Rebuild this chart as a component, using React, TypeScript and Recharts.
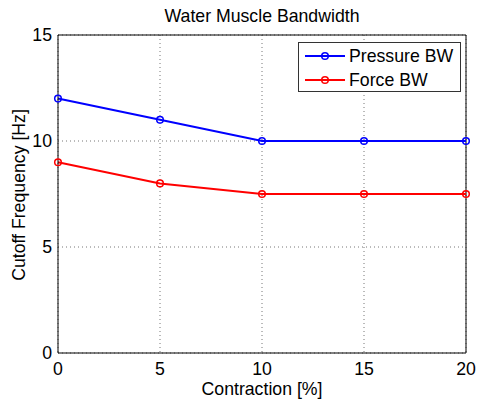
import {
  LineChart,
  Line,
  XAxis,
  YAxis,
  CartesianGrid,
  ReferenceLine,
} from 'recharts';

const contraction = [0, 5, 10, 15, 20];
const pressureBW = [12, 11, 10, 10, 10];
const forceBW = [9, 8, 7.5, 7.5, 7.5];
const xTicks = [0, 5, 10, 15, 20];
const yTicks = [0, 5, 10, 15];

const FONT = '"Liberation Sans", Arial, Helvetica, sans-serif';
const FS = 17.7;

const data = contraction.map((c, i) => ({
  contraction: c,
  pressure: pressureBW[i],
  force: forceBW[i],
}));

const legendItems = [
  { name: 'Pressure BW', color: '#0000ff' },
  { name: 'Force BW', color: '#ff0000' },
];

// boxed legend in the upper-right corner of the plot
function BoxLegend() {
  return (
    <div
      style={{
        position: 'absolute',
        left: 298,
        top: 42,
        width: 161,
        height: 48,
        border: '1px solid #333',
        background: '#fff',
        fontFamily: FONT,
        fontSize: FS,
        color: '#000',
      }}
    >
      {legendItems.map((item, i) => (
        <div key={item.name} style={{ display: 'flex', alignItems: 'center', height: 24, marginTop: i === 0 ? 1 : 0 }}>
          <svg width={48} height={24} style={{ display: 'block' }}>
            <line x1={6} y1={12} x2={46} y2={12} stroke={item.color} strokeWidth={2} />
            <circle cx={26} cy={12} r={3.3} fill="none" stroke={item.color} strokeWidth={1.5} />
          </svg>
          <span style={{ marginLeft: 2, lineHeight: '24px' }}>{item.name}</span>
        </div>
      ))}
    </div>
  );
}

function YTitle() {
  const cy = 195;
  const x = 25;
  return (
    <text
      x={x}
      y={cy}
      transform={`rotate(-90, ${x}, ${cy})`}
      textAnchor="middle"
      fontFamily={FONT}
      fontSize={FS}
      fill="#000"
    >
      Cutoff Frequency [Hz]
    </text>
  );
}

export default function App() {
  return (
    <div style={{ position: 'absolute', left: 0, top: 0, width: 477, height: 400, background: '#fff' }}>
      <LineChart
        width={477}
        height={400}
        data={data}
        margin={{ top: 35, right: 11, bottom: 0, left: 0 }}
      >
        <CartesianGrid stroke="#777" strokeDasharray="1 3" />
        <XAxis
          dataKey="contraction"
          type="number"
          domain={[0, 20]}
          ticks={xTicks}
          height={47}
          tickLine={false}
          tickSize={6}
          tickMargin={3}
          axisLine={{ stroke: '#000' }}
          tick={{ fill: '#000', fontSize: FS, fontFamily: FONT }}
          label={{
            value: 'Contraction [%]',
            position: 'insideBottom',
            offset: 5,
            fill: '#000',
            fontSize: FS,
            fontFamily: FONT,
          }}
        />
        <YAxis
          type="number"
          domain={[0, 15]}
          ticks={yTicks}
          width={58}
          tickLine={false}
          tickSize={6}
          tickMargin={0}
          axisLine={{ stroke: '#000' }}
          tick={{ fill: '#000', fontSize: FS, fontFamily: FONT }}
          label={<YTitle />}
        />
        <ReferenceLine
          y={15}
          stroke="#000"
          label={{
            value: 'Water Muscle Bandwidth',
            position: 'top',
            offset: 13,
            fill: '#000',
            fontSize: FS,
            fontFamily: FONT,
          }}
        />
        <ReferenceLine x={20} stroke="#000" />
        <Line
          dataKey="pressure"
          stroke="#0000ff"
          strokeWidth={2}
          dot={{ r: 3.3, stroke: '#0000ff', strokeWidth: 1.5, fill: 'none' }}
          isAnimationActive={false}
        />
        <Line
          dataKey="force"
          stroke="#ff0000"
          strokeWidth={2}
          dot={{ r: 3.3, stroke: '#ff0000', strokeWidth: 1.5, fill: 'none' }}
          isAnimationActive={false}
        />
      </LineChart>
      <BoxLegend />
    </div>
  );
}
